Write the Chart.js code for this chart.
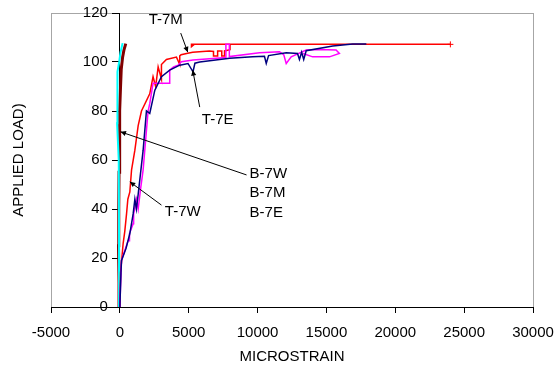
<!DOCTYPE html>
<html>
<head>
<meta charset="utf-8">
<script src="https://cdn.jsdelivr.net/npm/chart.js@4.4.0/dist/chart.umd.min.js"></script>
<style>
  html, body { margin: 0; padding: 0; background: #fff; }
</style>
</head>
<body>
<canvas id="loadChart" width="556" height="368"></canvas>
<script>
// ejes
var xTicks = [-5000, 0, 5000, 10000, 15000, 20000, 25000, 30000];
var yTicks = [0, 20, 40, 60, 80, 100, 120];

// B-7W / B-7M (casi vertical en cero)
var b7wX = [0, -60, -80, -200, -200, -150, -50, 50, 200];
var b7wY = [0, 30, 60, 75, 88, 96, 100, 104, 107.7];
var b7mX = [0, -60, -100, -80, -60, -30, 0, 50, 100, 200, 300, 430];
var b7mY = [0, 10, 25, 40, 55, 70, 80, 90, 97, 102, 105, 107.5];

// T-7W / T-7M (rojo)
var t7wX = [0, 50, 240, 360, 485, 580, 725, 850, 1090, 1330, 1570, 2170, 2410, 2600, 2780, 3020, 3020, 3380, 4110, 4350, 4350, 4450, 4930, 5290,
            6500, 6800, 6800, 7100, 7100, 7400, 7400, 7600, 7600, 8000, 8000, 5200, 5200, 5400, 24000];
var t7wY = [0, 14, 26, 31, 38, 44, 47, 56, 64, 74, 80, 87, 94, 90, 98, 93, 99, 101, 102, 99, 102.5, 103, 103.6, 104,
            104.5, 104.3, 102.5, 102.5, 104.5, 104.5, 102.5, 102.5, 104.5, 105, 107.2, 107.2, 106.3, 107.2, 107.2];

// T-7E (azul marino)
var t7eX = [0, 80, 120, 450, 725, 965, 1090, 1200, 1330, 1690, 1930, 2170, 2540, 3020, 3620, 4350, 4950, 5310, 5450, 5800, 7970, 9640, 10500,
            10630, 10800, 12080, 12900, 13040, 13200, 13350, 13530, 15460, 16900, 17900];
var t7eY = [0, 14, 19, 24, 30, 38, 44, 40, 46, 64, 80, 79, 88.5, 94, 96.7, 98.7, 99.4, 96, 99.5, 100, 101.5, 102.1, 102.3,
            99.4, 102.6, 103.8, 103.5, 101, 104, 101, 104.6, 106.5, 107.3, 107.3];

// otra serie T (magenta)
var t7mX = [0, 80, 120, 300, 600, 700, 700, 965, 1000, 1210, 1330, 1500, 1690, 1900, 2050, 2170, 2410, 3620, 3620, 3900, 4230, 4470, 5310,
            7700, 7700, 7950, 7950, 10140, 11590, 11900, 12080, 12440, 13530, 14490, 15700, 15940, 15220, 14000, 13300];
var t7mY = [0, 14, 19, 22, 27, 27, 30, 34, 38, 44, 40, 48, 56, 70, 80, 83, 91.3, 91.3, 96.7, 98, 98.7, 100.1, 100.8,
            101.8, 107.2, 107.2, 102.2, 103.8, 104.2, 103, 99.4, 102.1, 104.9, 105.1, 104.9, 103.5, 102.1, 102.1, 103.5];

function puntos(xs, ys) {
  return xs.map(function (x, i) { return { x: x, y: ys[i] }; });
}

var fuente = 'Arial, "Liberation Sans", sans-serif';

// borde gris del área
var bordeArea = {
  id: 'bordeArea',
  beforeDraw: function (chart) {
    var a = chart.chartArea, ctx = chart.ctx;
    ctx.save();
    ctx.strokeStyle = '#a6a6a6';
    ctx.lineWidth = 1;
    ctx.strokeRect(a.left + 0.5, a.top + 0.5, a.right - a.left, a.bottom - a.top);
    ctx.restore();
  }
};

// textos y flechas
var notas = [
  { text: ['T-7M'], tx: 3330, ty: 117, from: [4420, 111.8], to: [4930, 104] },
  { text: ['T-7E'], tx: 7100, ty: 76.3, from: [5800, 81.6], to: [5290, 96.7] },
  { text: ['B-7W', 'B-7M', 'B-7E'], tx: 9200, ty: 54.5, left: true, from: [9200, 53.9], to: [50, 71.5] },
  { text: ['T-7W'], tx: 3050, ty: 38.7, left: true, from: [3020, 41.6], to: [725, 51.1] }
];

var anotaciones = {
  id: 'anotaciones',
  afterDatasetsDraw: function (chart) {
    var ctx = chart.ctx, sx = chart.scales.x, sy = chart.scales.y;
    ctx.save();
    ctx.fillStyle = '#000';
    ctx.strokeStyle = '#000';
    ctx.lineWidth = 1;
    ctx.font = '15px ' + fuente;
    ctx.textBaseline = 'middle';

    // etiquetas del eje y (a la izquierda de la línea x = 0)
    var ejeX = sx.getPixelForValue(0);
    ctx.textAlign = 'right';
    sy.ticks.forEach(function (t) {
      ctx.fillText(String(t.value), ejeX - 12, sy.getPixelForValue(t.value));
    });

    notas.forEach(function (n) {
      var px = sx.getPixelForValue(n.tx), py = sy.getPixelForValue(n.ty);
      ctx.textAlign = n.left ? 'left' : 'center';
      n.text.forEach(function (t, i) {
        ctx.fillText(t, n.left ? px + 3 : px, py + i * 19.5);
      });
      var x1 = sx.getPixelForValue(n.from[0]), y1 = sy.getPixelForValue(n.from[1]);
      var x2 = sx.getPixelForValue(n.to[0]), y2 = sy.getPixelForValue(n.to[1]);
      ctx.beginPath();
      ctx.moveTo(x1, y1);
      ctx.lineTo(x2, y2);
      ctx.stroke();
      var ang = Math.atan2(y2 - y1, x2 - x1);
      ctx.beginPath();
      ctx.moveTo(x2, y2);
      ctx.lineTo(x2 - 6 * Math.cos(ang - 0.45), y2 - 6 * Math.sin(ang - 0.45));
      ctx.lineTo(x2 - 6 * Math.cos(ang + 0.45), y2 - 6 * Math.sin(ang + 0.45));
      ctx.closePath();
      ctx.fill();
    });

    // título del eje y
    ctx.translate(19, 160);
    ctx.rotate(-Math.PI / 2);
    ctx.textAlign = 'center';
    ctx.fillText('APPLIED LOAD)', 0, 0);
    ctx.restore();
  }
};

function serie(label, xs, ys, color, ancho, marcaFinal) {
  var ultimo = xs.length - 1;
  return {
    label: label,
    data: puntos(xs, ys),
    borderColor: color,
    backgroundColor: color,
    borderWidth: ancho,
    showLine: true,
    pointStyle: 'cross',
    pointBorderWidth: 1,
    pointRadius: function (c) { return marcaFinal && c.dataIndex === ultimo ? 3 : 0; },
    tension: 0
  };
}

new Chart(document.getElementById('loadChart'), {
  type: 'scatter',
  data: {
    datasets: [
      serie('T-7E', t7eX, t7eY, '#000080', 1.5),
      serie('T-7M', t7mX, t7mY, '#ff00ff', 1.5),
      serie('T-7W', t7wX, t7wY, '#ff0000', 1.5, true),
      serie('B-7W', b7wX, b7wY, '#00ffff', 2),
      serie('B-7M', b7mX, b7mY, '#800000', 3)
    ]
  },
  options: {
    responsive: false,
    animation: false,
    devicePixelRatio: 1,
    layout: { padding: { left: 51, top: 13, right: 23, bottom: 0 } },
    plugins: { legend: { display: false }, tooltip: { enabled: false } },
    scales: {
      x: {
        type: 'linear',
        position: 'bottom',
        min: xTicks[0],
        max: xTicks[xTicks.length - 1],
        afterBuildTicks: function (s) { s.ticks = xTicks.map(function (v) { return { value: v }; }); },
        afterFit: function (s) { s.height = 61; s.paddingLeft = 0; s.paddingRight = 0; },
        ticks: {
          color: '#000',
          font: { family: fuente, size: 15 },
          padding: 11,
          maxRotation: 0,
          callback: function (v) { return String(v); }
        },
        grid: { drawOnChartArea: false, tickLength: 6, color: '#000' },
        border: { color: '#000', width: 1 },
        title: {
          display: true,
          text: 'MICROSTRAIN',
          color: '#000',
          font: { family: fuente, size: 15 },
          padding: { top: 0, bottom: 2 }
        }
      },
      y: {
        type: 'linear',
        position: { x: 0 },
        min: yTicks[0],
        max: yTicks[yTicks.length - 1],
        afterBuildTicks: function (s) { s.ticks = yTicks.map(function (v) { return { value: v }; }); },
        ticks: { display: false },
        grid: { drawOnChartArea: false, tickLength: 7, color: '#000' },
        border: { color: '#000', width: 1 }
      }
    }
  },
  plugins: [bordeArea, anotaciones]
});
</script>
</body>
</html>
